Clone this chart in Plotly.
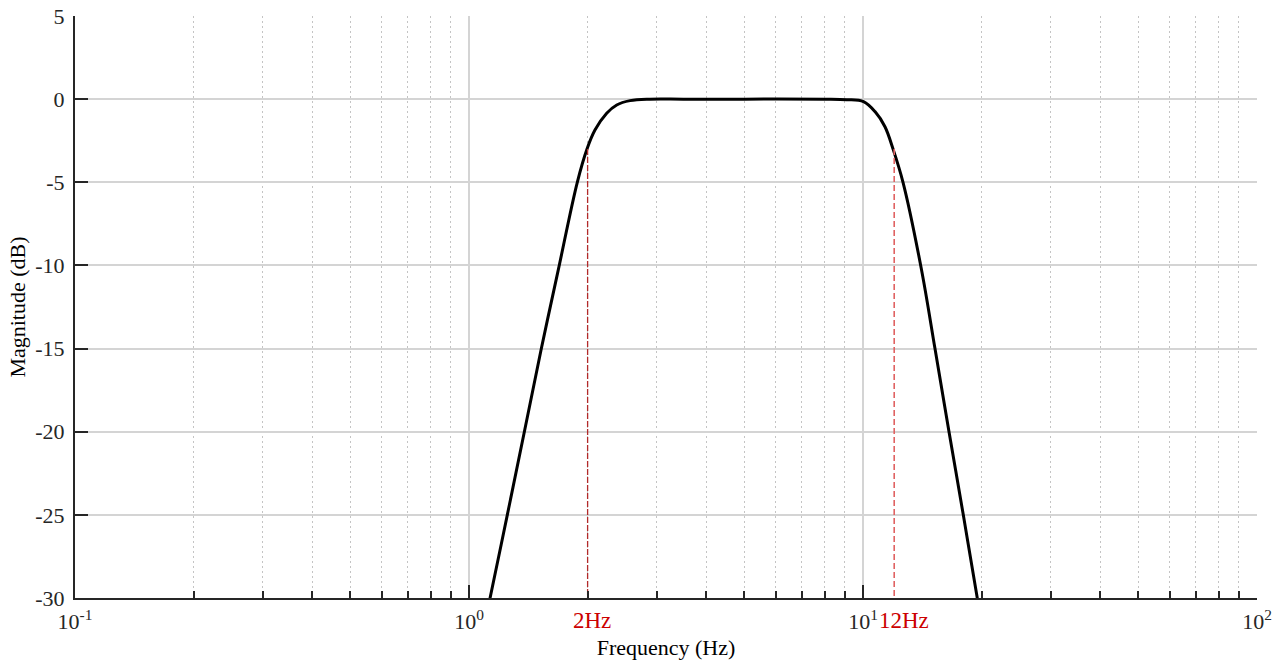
import math
import plotly.graph_objects as go

# Frequency response (Hz, dB)
freq_hz = [1.085, 1.131, 1.251, 1.382, 1.523, 1.685, 1.883, 1.993, 2.088, 2.236,
           2.371, 2.563, 2.879, 3.5, 5.0, 8.0, 9.09, 10.03, 10.726, 11.37,
           11.92, 12.635, 14.08, 15.23, 16.53, 17.97, 19.50, 20.17]
mag_db = [-32, -30, -25, -20, -15.1, -10.27, -5, -3, -1.86, -0.85,
          -0.35, -0.09, 0, 0, 0, 0, -0.03, -0.15, -0.75, -1.66,
          -3, -5, -10.27, -15, -20, -25, -30, -32]

cutoff_hz = [2, 12]
cutoff_labels = ["2Hz", "12Hz"]
cutoff_db = -3
floor_db = -30

x_tickvals = [0.1, 1, 10, 100]
x_ticktext = ["10<sup>-1</sup>", "10<sup>0</sup>", "10<sup>1</sup>", "10<sup>2</sup>"]
y_tickvals = [5, 0, -5, -10, -15, -20, -25, -30]
y_ticktext = ["5", "0", "-5", "-10", "-15", "-20", "-25", "-30"]

minor_vals = [m * d for d in (0.1, 1, 10) for m in range(2, 10)]

FONT = "Liberation Serif, Times New Roman, serif"
AX = "#262626"
FS = 22

fig = go.Figure()

fig.add_trace(go.Scatter(
    x=freq_hz, y=mag_db, mode="lines",
    line=dict(color="black", width=3, shape="spline", smoothing=1.0),
    showlegend=False, hoverinfo="skip"))

line_styles = [dict(color="#b22a2a", width=1.3, dash="6px,2px"),
               dict(color="#e06262", width=1.6, dash="6px,3px")]
for f, st in zip(cutoff_hz, line_styles):
    fig.add_trace(go.Scatter(x=[f, f], y=[cutoff_db, floor_db], mode="lines",
                             line=st, showlegend=False, hoverinfo="skip"))

shifts = [4, 10]
for f, lab, s in zip(cutoff_hz, cutoff_labels, shifts):
    fig.add_annotation(x=math.log10(f), xref="x", y=0, yref="paper", text=lab,
                       showarrow=False, xanchor="center", yanchor="top",
                       xshift=s, yshift=-8,
                       font=dict(family=FONT, size=23, color="#cc0000"))

fig.update_xaxes(
    type="log", range=[-1, 2], automargin=False,
    tickvals=x_tickvals, ticktext=x_ticktext,
    ticks="inside", ticklen=13, tickwidth=2, tickcolor=AX,
    ticklabelstandoff=3,
    showline=True, linecolor=AX, linewidth=2, mirror=False,
    showgrid=True, gridcolor="#d4d4d4", gridwidth=1.5,
    minor=dict(tickvals=minor_vals, ticks="inside", ticklen=7, tickwidth=2,
               tickcolor=AX, showgrid=True, gridcolor="#c4c4c4",
               griddash="2px,3px", gridwidth=1),
    tickfont=dict(family=FONT, size=FS, color=AX),
    title=dict(text="Frequency (Hz)", font=dict(family=FONT, size=FS, color="black"),
               standoff=6),
    zeroline=False)

fig.update_yaxes(
    range=[-30, 5], automargin=False,
    tickvals=y_tickvals, ticktext=y_ticktext,
    ticks="inside", ticklen=13, tickwidth=2, tickcolor=AX,
    ticklabelstandoff=4,
    showline=True, linecolor=AX, linewidth=2, mirror=False,
    showgrid=True, gridcolor="#d4d4d4", gridwidth=1.5,
    tickfont=dict(family=FONT, size=FS, color=AX),
    title=dict(text="Magnitude (dB)", font=dict(family=FONT, size=FS, color="black"),
               standoff=4),
    zeroline=False)

fig.update_layout(
    width=1288, height=665,
    margin=dict(l=75, r=31, t=16, b=67),
    paper_bgcolor="white", plot_bgcolor="white",
    font=dict(family=FONT))

fig.write_html("out.html")
